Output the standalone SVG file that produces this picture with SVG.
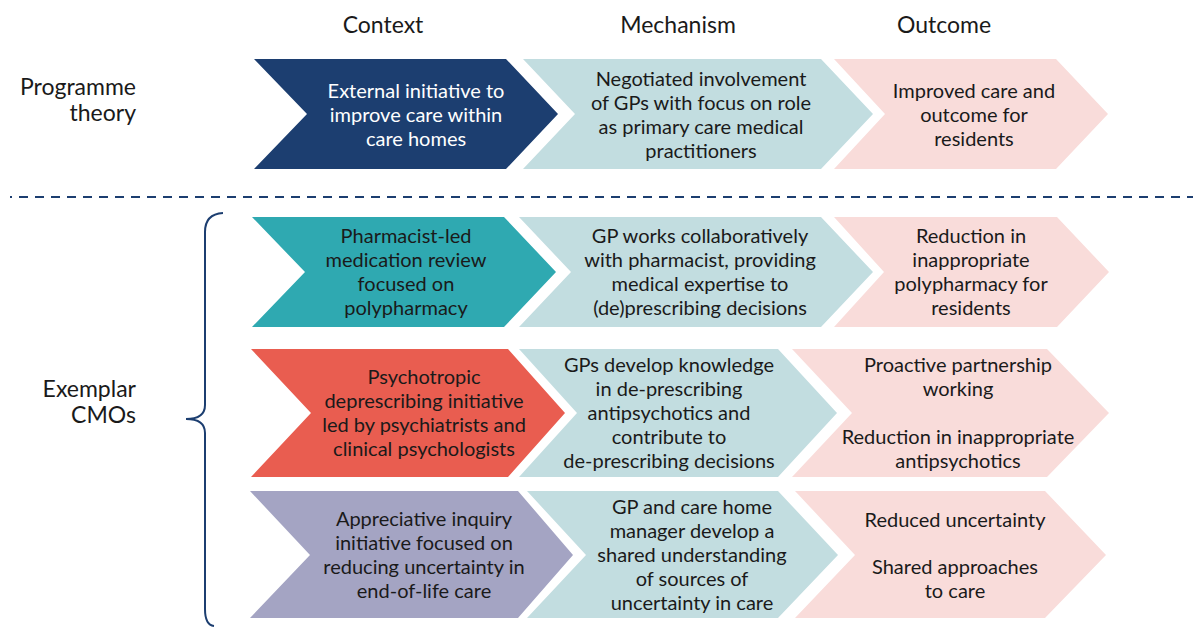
<svg xmlns="http://www.w3.org/2000/svg" width="1193" height="627" viewBox="0 0 1193 627">
<style>
text{font-family:Lato,"Open Sans","Liberation Sans",sans-serif;font-size:20px;fill:#1a1a1a;text-anchor:middle}
.hd{font-size:23px}
.lb{font-size:23px;text-anchor:end}
.w{fill:#ffffff}
.navy{fill:#1c3e70}
.blue{fill:#c2dde0}
.pink{fill:#f9dcda}
.teal{fill:#2fa9b1}
.red{fill:#e95d50}
.lav{fill:#a4a4c3}
.ln{fill:none;stroke:#1c3e70;stroke-width:2}
</style>
<rect width="1193" height="627" fill="#ffffff"/>
<g id="headers">
<text class="hd" x="383" y="33">Context</text>
<text class="hd" x="678" y="33">Mechanism</text>
<text class="hd" x="944" y="33">Outcome</text>
</g>
<g id="row-labels">
<text class="lb" x="136" y="95">Programme</text>
<text class="lb" x="136" y="121">theory</text>
<text class="lb" x="136" y="397">Exemplar</text>
<text class="lb" x="136" y="423">CMOs</text>
</g>
<g id="connectors">
<path class="ln" d="M10,197 H1193" stroke-dasharray="9 7" stroke-dashoffset="7"/>
<path class="ln" d="M223,213 Q205,214 205,232 L205,405 Q205,419 186,419 Q205,419 205,433 L205,609 Q205,625 214,626"/>
</g>
<g id="pt-context">
<polygon class="navy" points="254,59 506,59 558,114 506,169 254,169 307,114"/>
<text class="w" x="416" y="98">External initiative to</text>
<text class="w" x="416" y="122">improve care within</text>
<text class="w" x="416" y="146">care homes</text>
</g>
<g id="pt-mechanism">
<polygon class="blue" points="523,59 821,59 873,114 821,169 523,169 575,114"/>
<text x="701" y="86">Negotiated involvement</text>
<text x="701" y="110">of GPs with focus on role</text>
<text x="701" y="134">as primary care medical</text>
<text x="701" y="158">practitioners</text>
</g>
<g id="pt-outcome">
<polygon class="pink" points="834,59 1056,59 1108,114 1056,169 834,169 885,114"/>
<text x="974" y="98">Improved care and</text>
<text x="974" y="122">outcome for</text>
<text x="974" y="146">residents</text>
</g>
<g id="cmo1-context">
<polygon class="teal" points="252,217 504,217 556,272 504,327 252,327 305,272"/>
<text x="406" y="243">Pharmacist-led</text>
<text x="406" y="267">medication review</text>
<text x="406" y="291">focused on</text>
<text x="406" y="315">polypharmacy</text>
</g>
<g id="cmo1-mechanism">
<polygon class="blue" points="519,217 821,217 873,272 821,327 519,327 571,272"/>
<text x="700" y="243">GP works collaboratively</text>
<text x="700" y="267">with pharmacist, providing</text>
<text x="700" y="291">medical expertise to</text>
<text x="700" y="315">(de)prescribing decisions</text>
</g>
<g id="cmo1-outcome">
<polygon class="pink" points="834,217 1057,217 1109,272 1057,327 834,327 884,272"/>
<text x="971" y="243">Reduction in</text>
<text x="971" y="267">inappropriate</text>
<text x="971" y="291">polypharmacy for</text>
<text x="971" y="315">residents</text>
</g>
<g id="cmo2-context">
<polygon class="red" points="251,349 508,349 565,413 508,477 251,477 311,413"/>
<text x="424" y="384">Psychotropic</text>
<text x="424" y="408">deprescribing initiative</text>
<text x="424" y="432">led by psychiatrists and</text>
<text x="424" y="456">clinical psychologists</text>
</g>
<g id="cmo2-mechanism">
<polygon class="blue" points="519,349 778,349 837,413 778,477 519,477 577,413"/>
<text x="669" y="372">GPs develop knowledge</text>
<text x="669" y="396">in de-prescribing</text>
<text x="669" y="420">antipsychotics and</text>
<text x="669" y="444">contribute to</text>
<text x="669" y="468">de-prescribing decisions</text>
</g>
<g id="cmo2-outcome">
<polygon class="pink" points="792,349 1047,349 1109,413 1047,477 792,477 852,413"/>
<text x="958" y="372">Proactive partnership</text>
<text x="958" y="396">working</text>
<text x="958" y="444">Reduction in inappropriate</text>
<text x="958" y="468">antipsychotics</text>
</g>
<g id="cmo3-context">
<polygon class="lav" points="250,491 518,491 573,555 518,618 250,618 310,555"/>
<text x="424" y="526">Appreciative inquiry</text>
<text x="424" y="550">initiative focused on</text>
<text x="424" y="574">reducing uncertainty in</text>
<text x="424" y="598">end-of-life care</text>
</g>
<g id="cmo3-mechanism">
<polygon class="blue" points="527,491 778,491 838,555 778,618 527,618 586,555"/>
<text x="692" y="514">GP and care home</text>
<text x="692" y="538">manager develop a</text>
<text x="692" y="562">shared understanding</text>
<text x="692" y="586">of sources of</text>
<text x="692" y="610">uncertainty in care</text>
</g>
<g id="cmo3-outcome">
<polygon class="pink" points="795,491 1045,491 1106,555 1045,618 795,618 855,555"/>
<text x="955" y="527">Reduced uncertainty</text>
<text x="955" y="574">Shared approaches</text>
<text x="955" y="598">to care</text>
</g>
</svg>
